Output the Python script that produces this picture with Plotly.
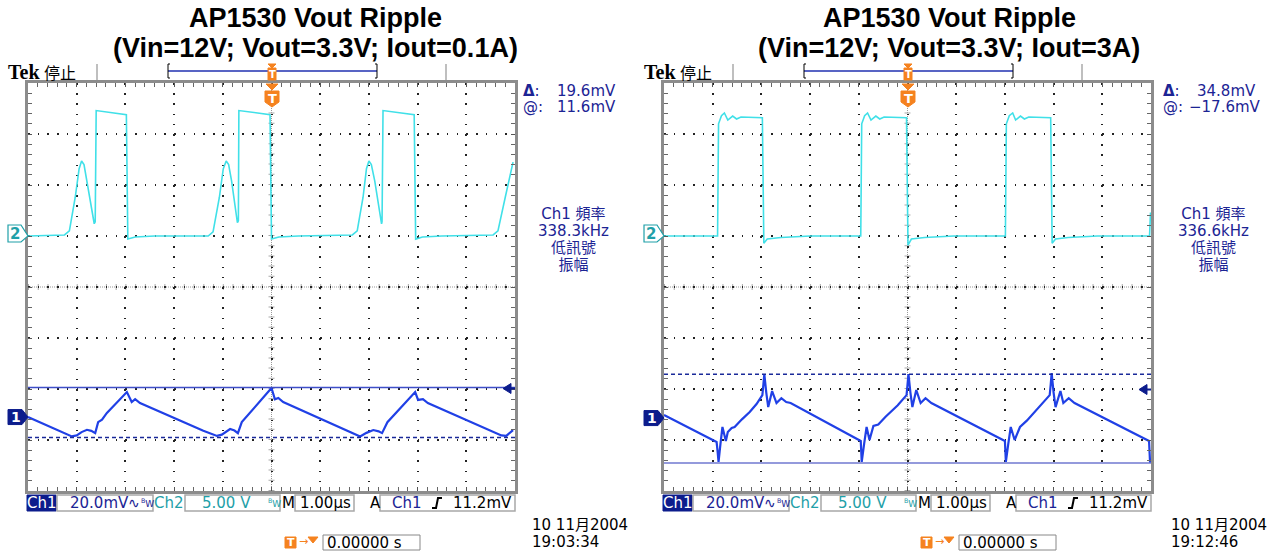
import plotly.graph_objects as go

W, H = 1280, 553

# ======================= DATA =======================
title_line1 = "AP1530 Vout Ripple"
left_title_line2 = "(Vin=12V; Vout=3.3V; Iout=0.1A)"
right_title_line2 = "(Vin=12V; Vout=3.3V; Iout=3A)"

time_range_us = [-5, 5]          # M 1.00 µs/div, 10 divisions
n_vdiv = 4                        # +-4 vertical divisions
ch1_mv_per_div = 20.0
ch2_v_per_div = 5.0
ch2_ground_div = 1.0
left_ch1_ground_div = -2.55
right_ch1_ground_div = -2.57

# ---- left capture (Iout = 0.1 A) ----
left_ch1_t = [-5.00, -4.40, -4.20, -4.10, -4.00, -3.90, -3.79, -3.70, -3.62, -3.56, -3.48, -3.38,
              -2.97, -2.87, -2.80, -2.70, -1.40, -1.22, -1.12, -1.02, -0.85, -0.76, -0.69, -0.61,
              -0.48, 0.00, 0.07, 0.14, 0.24, 1.60, 1.75, 1.82, 1.95, 2.09, 2.20, 2.27, 2.38, 2.50,
              2.95, 3.01, 3.11, 3.21, 4.55, 4.72, 4.82, 4.96]
left_ch1_mv = [0.0, -5.2, -6.7, -7.6, -7.2, -5.9, -5.0, -5.4, -6.3, -2.0, -1.0, 1.6,
               9.8, 5.9, 7.0, 5.5, -5.4, -6.8, -7.4, -6.9, -4.7, -5.3, -6.3, -2.0,
               0.8, 11.4, 7.0, 7.5, 5.9, -5.8, -7.0, -7.6, -6.2, -5.1, -5.6, -6.3, -2.0, 0.4,
               9.8, 6.7, 7.0, 5.5, -5.6, -7.2, -7.4, -5.1]
left_ch2_t = [-5.00, -4.25, -4.15, -4.03, -3.95, -3.90, -3.85, -3.79, -3.69, -3.64, -3.62, -3.60,
              -2.98, -2.95, -2.80, -2.40, -1.30, -1.20, -1.07, -0.99, -0.93, -0.88, -0.82, -0.74,
              -0.70, -0.68, -0.67, -0.03, 0.00, 0.15, 0.55, 1.66, 1.76, 1.88, 1.95, 2.00, 2.05,
              2.12, 2.21, 2.26, 2.27, 2.29, 2.93, 2.96, 3.10, 3.50, 4.55, 4.65, 4.80, 4.96]
left_ch2_v = [0.0, 0.1, 0.5, 3.8, 6.6, 7.35, 7.0, 5.4, 2.5, 1.2, 1.4, 12.3,
              11.9, -0.3, -0.1, 0.0, 0.0, 0.4, 3.8, 6.6, 7.35, 7.0, 5.4, 2.5,
              1.3, 1.5, 12.3, 11.9, -0.3, -0.1, 0.0, 0.1, 0.5, 3.8, 6.6, 7.35, 7.0,
              5.4, 2.5, 1.2, 1.4, 12.3, 11.9, -0.3, -0.1, 0.0, 0.1, 0.5, 3.8, 7.25]
left_cursor_solid_mv = 11.6
left_cursor_dashed_mv = -8.0
left_delta = "19.6mV"
left_at = "11.6mV"
left_freq = "338.3kHz"
left_date = "10 11月2004"
left_clock = "19:03:34"

# ---- right capture (Iout = 3 A) ----
right_ch1_t = [-5.00, -3.92, -3.90, -3.88, -3.84, -3.80, -3.73, -3.69, -3.61, -3.55, -3.40, -3.24,
               -3.10, -2.98, -2.96, -2.94, -2.90, -2.86, -2.78, -2.69, -2.59, -2.49, -2.40,
               -0.96, -0.95, -0.94, -0.89, -0.84, -0.78, -0.70, -0.60, -0.45, -0.20, -0.02,
               0.00, 0.02, 0.06, 0.10, 0.18, 0.27, 0.37, 0.49, 2.00, 2.01, 2.02, 2.07, 2.12,
               2.20, 2.31, 2.45, 2.61, 2.80, 2.92, 2.94, 2.96, 3.00, 3.04, 3.14, 3.20, 3.31,
               3.43, 4.96, 4.98, 5.00]
right_ch1_mv = [1.2, -9.4, -13.0, -17.2, -10.0, -3.5, -9.0, -5.5, -3.9, -3.5, -0.5, 2.4,
                5.5, 9.0, 13.0, 17.2, 10.0, 4.3, 10.6, 5.9, 7.8, 6.3, 5.9,
                -9.0, -13.0, -17.2, -10.0, -3.5, -8.6, -3.1, -2.5, 0.5, 5.0, 9.0,
                13.0, 17.2, 10.0, 4.3, 11.0, 5.9, 7.8, 5.9, -9.0, -13.0, -17.2, -10.0, -3.5,
                -8.6, -3.5, -1.0, 2.4, 6.5, 9.0, 13.0, 17.6, 10.0, 4.3, 10.6, 5.9, 7.8,
                5.9, -9.0, -17.2, -17.2]
right_ch2_t = [-5.00, -3.90, -3.88, -3.82, -3.76, -3.69, -3.59, -3.51, -3.42, -2.98, -2.95, -2.88,
               -2.60, -2.00, -0.96, -0.94, -0.88, -0.82, -0.75, -0.65, -0.57, -0.48, -0.02,
               0.01, 0.08, 0.35, 0.95, 2.01, 2.03, 2.09, 2.16, 2.22, 2.32, 2.40, 2.49, 2.94,
               2.97, 3.04, 3.30, 3.90, 4.97, 4.99]
right_ch2_v = [0.0, 0.0, 11.0, 11.8, 12.06, 11.37, 11.76, 11.47, 11.67, 11.6, -0.7, -0.3,
               -0.15, 0.0, 0.0, 11.0, 11.8, 12.06, 11.37, 11.76, 11.47, 11.67, 11.6,
               -0.9, -0.3, -0.15, 0.0, 0.0, 11.0, 11.8, 12.06, 11.37, 11.76, 11.47, 11.67, 11.6,
               -0.7, -0.3, -0.15, 0.0, 0.0, 2.3]
right_cursor_solid_mv = -17.6
right_cursor_dashed_mv = 17.2
right_delta = "34.8mV"
right_at = "\u221217.6mV"
right_freq = "336.6kHz"
right_date = "10 11月2004"
right_clock = "19:12:46"

trigger_level_mv = 11.2
ch1_scale_text = "20.0mV"
ch2_scale_text = "5.00 V"
time_scale_text = "1.00µs"
trigger_text = "11.2mV"
trigger_pos_text = "0.00000 s"

# ======================= STYLE =======================
NAVY = "#1c2494"
TEAL = "#1fa0a8"
ORANGE = "#f5821f"
CYAN = "#40e0e8"
BLUE = "#2040e6"
GRID = "#222222"
FRAME = "#8c8c8c"
TEK = "DejaVu Sans, Noto Sans CJK TC"
CJK = "Noto Sans CJK TC, DejaVu Sans"


def X(px):
    return px / W


def Y(py):
    return 1 - py / H


def ppath(pts, close=True):
    s = "M " + " L ".join(f"{X(a):.5f},{Y(b):.5f}" for a, b in pts)
    return s + (" Z" if close else "")


def mpath(pts, close=True):
    # x in pixels -> paper, y already in data units
    s = "M " + " L ".join(f"{X(a):.5f},{b:.4f}" for a, b in pts)
    return s + (" Z" if close else "")


fig = go.Figure()
annotations = []
shapes = []


def txt(x, y, text, size=14, color="black", family=TEK, xanchor="center", yanchor="middle",
        xref="paper", yref="paper"):
    annotations.append(dict(x=x, y=y, text=text, showarrow=False, xref=xref, yref=yref,
                            xanchor=xanchor, yanchor=yanchor,
                            font=dict(family=family, size=size, color=color), borderpad=0))


def rect(x0, y0, x1, y1, fill="white", line="#a8a8a8", lw=1.5):
    shapes.append(dict(type="rect", xref="paper", yref="paper", x0=X(x0), x1=X(x1),
                       y0=Y(y1), y1=Y(y0), fillcolor=fill, line=dict(color=line, width=lw),
                       layer="above"))


def vrange(ground_div, per_div):
    return [(-n_vdiv - ground_div) * per_div, (n_vdiv - ground_div) * per_div]


panels = [
    dict(ox=0, sx=0, tc=315, xa="x", ya="y", y1a="y3",
         ch1_t=left_ch1_t, ch1_v=left_ch1_mv, ch2_t=left_ch2_t, ch2_v=left_ch2_v,
         g1=left_ch1_ground_div, solid=left_cursor_solid_mv, dashed=left_cursor_dashed_mv,
         solid_col="#3e4ec8", title2=left_title_line2, delta=left_delta, at=left_at,
         freq=left_freq, date=left_date, clock=left_clock),
    dict(ox=636, sx=640, tc=949, xa="x2", ya="y2", y1a="y4",
         ch1_t=right_ch1_t, ch1_v=right_ch1_mv, ch2_t=right_ch2_t, ch2_v=right_ch2_v,
         g1=right_ch1_ground_div, solid=right_cursor_solid_mv, dashed=right_cursor_dashed_mv,
         solid_col="#7078d0", title2=right_title_line2, delta=right_delta, at=right_at,
         freq=right_freq, date=right_date, clock=right_clock),
]

ch2_range = vrange(ch2_ground_div, ch2_v_per_div)
ch2_center = (ch2_range[0] + ch2_range[1]) / 2
mv_per_px = ch1_mv_per_div / 51.0
v_per_px = ch2_v_per_div / 51.0

layout_axes = {}
for i, p in enumerate(panels):
    ox = p["ox"]
    xk = "xaxis" if i == 0 else "xaxis2"
    yk = "yaxis" if i == 0 else "yaxis2"
    y1k = "yaxis3" if i == 0 else "yaxis4"
    layout_axes[xk] = dict(
        domain=[X(28 + ox), X(515 + ox)], range=time_range_us, anchor=p["ya"],
        dtick=1, tick0=0, showgrid=True, gridcolor=GRID, gridwidth=1.5,
        griddash="1.5px,8.7px", zeroline=False, showline=True, mirror="allticks",
        linecolor=FRAME, linewidth=3, ticks="inside", ticklen=4, tickcolor="#555",
        minor=dict(ticks="inside", dtick=0.2, ticklen=4, tickcolor="#666", showgrid=False),
        showticklabels=False, fixedrange=True)
    layout_axes[yk] = dict(
        domain=[Y(491), Y(83)], range=ch2_range, anchor=p["xa"],
        dtick=ch2_v_per_div, tick0=0, showgrid=True, gridcolor=GRID, gridwidth=1.5,
        griddash="1.5px,8.24px", zeroline=False, showline=True, mirror="allticks",
        linecolor=FRAME, linewidth=3, ticks="inside", ticklen=4, tickcolor="#555",
        minor=dict(ticks="inside", dtick=ch2_v_per_div / 5, ticklen=4, tickcolor="#666",
                   showgrid=False),
        showticklabels=False, fixedrange=True)
    layout_axes[y1k] = dict(
        range=vrange(p["g1"], ch1_mv_per_div), overlaying=p["ya"], anchor=p["xa"],
        visible=False, fixedrange=True)

    # center crosshair (dense dots + ticks)
    for dash, wdt, col in (("1px,1px", 1, "#999"), ("1px,8.74px", 6, "#aaa")):
        shapes.append(dict(type="line", xref=p["xa"], yref=p["ya"], x0=time_range_us[0],
                           x1=time_range_us[1], y0=ch2_center, y1=ch2_center, layer="below",
                           line=dict(color=col, width=wdt, dash=dash)))
    for dash, wdt, col in (("1px,1px", 1, "#999"), ("1px,9.2px", 6, "#aaa")):
        shapes.append(dict(type="line", xref=p["xa"], yref=p["ya"], x0=0, x1=0,
                           y0=ch2_range[0], y1=ch2_range[1], layer="below",
                           line=dict(color=col, width=wdt, dash=dash)))

    # traces
    fig.add_trace(go.Scatter(x=p["ch2_t"], y=p["ch2_v"], xaxis=p["xa"], yaxis=p["ya"],
                             mode="lines", line=dict(color=CYAN, width=1.6), hoverinfo="skip"))
    fig.add_trace(go.Scatter(x=p["ch1_t"], y=p["ch1_v"], xaxis=p["xa"], yaxis=p["y1a"],
                             mode="lines", line=dict(color=BLUE, width=2.2), hoverinfo="skip"))

    # cursors
    dom_ref = p["xa"] + " domain"
    shapes.append(dict(type="line", xref=dom_ref, yref=p["y1a"], x0=0, x1=1,
                       y0=p["solid"], y1=p["solid"], line=dict(color=p["solid_col"], width=1.6)))
    shapes.append(dict(type="line", xref=dom_ref, yref=p["y1a"], x0=0, x1=1,
                       y0=p["dashed"], y1=p["dashed"],
                       line=dict(color="#1a2a9a", width=1.4, dash="4px,3px")))

    # trigger level arrow (right edge)
    t = trigger_level_mv
    shapes.append(dict(type="path", xref="paper", yref=p["y1a"], layer="above",
                       path=mpath([(503 + ox, t), (511 + ox, t + 5 * mv_per_px),
                                   (511 + ox, t - 5 * mv_per_px)]),
                       fillcolor="#0c1c8c", line=dict(color="#0c1c8c", width=1)))
    shapes.append(dict(type="path", xref="paper", yref=p["y1a"], layer="above",
                       path=mpath([(510 + ox, t), (515 + ox, t)], close=False),
                       line=dict(color="#0c1c8c", width=2)))

    # channel 1 ground marker
    shapes.append(dict(type="path", xref="paper", yref=p["y1a"], layer="above",
                       path=mpath([(8 + ox, 7.5 * mv_per_px), (22 + ox, 7.5 * mv_per_px),
                                   (28 + ox, 0), (22 + ox, -7.5 * mv_per_px),
                                   (8 + ox, -7.5 * mv_per_px)]),
                       fillcolor="#0c1c8c", line=dict(color="#0c1c8c", width=1)))
    txt(X(15.5 + ox), 0, "<b>1</b>", size=14, color="white", xref="paper", yref=p["y1a"])
    # channel 2 ground marker
    shapes.append(dict(type="path", xref="paper", yref=p["ya"], layer="above",
                       path=mpath([(8 + ox, 11 * v_per_px), (21 + ox, 11 * v_per_px),
                                   (28 + ox, 0), (21 + ox, -6 * v_per_px),
                                   (8 + ox, -6 * v_per_px)]),
                       fillcolor="white", line=dict(color=TEAL, width=1.2)))
    txt(X(15 + ox), 2.5 * v_per_px, "<b>2</b>", size=15, color=TEAL, xref="paper",
        yref=p["ya"])

    # titles
    txt(X(p["tc"]), Y(18), "<b>" + title_line1 + "</b>", size=27, color="black",
        family="Liberation Sans, Arial")
    txt(X(p["tc"]), Y(48), "<b>" + p["title2"] + "</b>", size=27, color="black",
        family="Liberation Sans, Arial")

    # top status line
    txt(X(7 + ox), Y(72), "<b>Tek</b>", size=20, color="black",
        family="Liberation Serif, Times New Roman", xanchor="left")
    txt(X(43 + ox), Y(72), "停止", size=16, color="black", family=CJK, xanchor="left")
    for sep in (97, 446):
        shapes.append(dict(type="line", xref="paper", yref="paper", x0=X(sep + ox),
                           x1=X(sep + ox), y0=Y(64), y1=Y(80),
                           line=dict(color="#aaaaaa", width=1.5)))
    shapes.append(dict(type="line", xref="paper", yref="paper", x0=X(168 + ox),
                       x1=X(377 + ox), y0=Y(71), y1=Y(71), line=dict(color="#2030b0", width=1.5)))
    for bx, sgn in ((168, 1), (377, -1)):
        shapes.append(dict(type="path", xref="paper", yref="paper",
                           path=ppath([(bx + ox + 2 * sgn, 64), (bx + ox, 64), (bx + ox, 78),
                                       (bx + ox + 2 * sgn, 78)], close=False),
                           line=dict(color="black", width=1)))
    cx = 272 + ox
    shapes.append(dict(type="path", xref="paper", yref="paper",
                       path=ppath([(cx - 4, 64), (cx + 4, 64), (cx, 68)]),
                       fillcolor=ORANGE, line=dict(color=ORANGE, width=1)))
    rect(cx - 4, 68, cx + 4, 80, fill=ORANGE, line=ORANGE, lw=1)
    txt(X(cx), Y(74.5), "<b>T</b>", size=10, color="white", family="DejaVu Sans")
    # trigger position marker at top of graticule
    shapes.append(dict(type="path", xref="paper", yref="paper",
                       path=ppath([(cx - 6, 84), (cx + 6, 84), (cx, 90)]),
                       fillcolor=ORANGE, line=dict(color=ORANGE, width=1)))
    shapes.append(dict(type="path", xref="paper", yref="paper",
                       path=ppath([(cx - 7, 91), (cx + 7, 91), (cx + 7, 102), (cx, 107),
                                   (cx - 7, 102)]),
                       fillcolor=ORANGE, line=dict(color=ORANGE, width=1)))
    txt(X(cx), Y(98), "<b>T</b>", size=13, color="white", family="DejaVu Sans")

    # right-hand readouts
    sx = p["sx"]
    txt(X(522 + sx), Y(91), "<b>Δ</b>:", size=15, color=NAVY, xanchor="left")
    txt(X(617 + sx), Y(91), p["delta"], size=15, color=NAVY, xanchor="right")
    txt(X(522 + sx), Y(107), "@:", size=15, color=NAVY, xanchor="left")
    txt(X(617 + sx + (5 if i == 1 else 0)), Y(107), p["at"], size=15, color=NAVY,
        xanchor="right")
    # frequency measurement block (one 4-line text, 17 px line pitch)
    big = '<span style="font-size:15px">'
    block = (big + "Ch1 頻率</span><br>" + big + p["freq"] + "</span><br>"
             + big + "低訊號</span><br>" + big + "振幅</span>")
    txt(X(573 + sx), Y(240), block, size=13.1, color=NAVY, family=TEK)

    # bottom status bar
    yb = Y(503)
    rect(27 + ox, 495, 56 + ox, 511, fill="#0c1c8c", line="#0c1c8c", lw=1)
    txt(X(41.5 + ox), yb, "Ch1", size=15, color="white")
    rect(57 + ox, 495, 153 + ox, 511)
    txt(X(99 + ox), yb, ch1_scale_text, size=15, color=NAVY)
    txt(X(134 + ox), yb, "∿", size=14, color=NAVY)
    txt(X(147 + ox), yb, "<sup>B</sup>W", size=9, color=NAVY)
    txt(X(169 + ox), yb, "Ch2", size=15, color=TEAL)
    rect(185 + ox, 495, 280 + ox, 511)
    txt(X(226 + ox), yb, ch2_scale_text, size=15, color=TEAL)
    txt(X(274 + ox), yb, "<sup>B</sup>W", size=9, color=TEAL)
    txt(X(288.5 + ox), yb, "M", size=15, color="black")
    rect(295 + ox, 495, 354 + ox, 511)
    txt(X(325 + ox), yb, time_scale_text, size=15, color="black")
    txt(X(375 + ox), yb, "A", size=15, color="black")
    rect(380 + ox, 495, 515 + ox, 511)
    txt(X(407 + ox), yb, "Ch1", size=15, color=NAVY)
    shapes.append(dict(type="path", xref="paper", yref="paper",
                       path=ppath([(432 + ox, 508), (436 + ox, 508), (438 + ox, 498),
                                   (442 + ox, 498)], close=False),
                       line=dict(color="black", width=2)))
    txt(X(513 + ox), yb, trigger_text, size=15, color="black", xanchor="right")

    # date / time
    txt(X(531 + sx - (1 if i == 1 else 0)), Y(525), p["date"], size=15, color="black",
        family="DejaVu Sans, Noto Sans CJK TC", xanchor="left")
    txt(X(531 + sx - (1 if i == 1 else 0)), Y(542), p["clock"], size=15, color="black",
        xanchor="left")

    # trigger position readout
    rect(285 + ox, 537, 296 + ox, 548, fill=ORANGE, line=ORANGE, lw=1)
    txt(X(290.5 + ox), Y(542.5), "<b>T</b>", size=11, color="white")
    txt(X(303 + ox), Y(541), "→", size=11, color=ORANGE)
    shapes.append(dict(type="path", xref="paper", yref="paper",
                       path=ppath([(308 + ox, 537), (318 + ox, 537), (313 + ox, 543)]),
                       fillcolor=ORANGE, line=dict(color=ORANGE, width=1)))
    rect(323 + ox, 535, 420 + ox, 550, line="#888888", lw=1)
    txt(X(326 + ox), Y(542.5), trigger_pos_text, size=15, color="black", xanchor="left")

fig.update_layout(
    width=W, height=H, autosize=False,
    margin=dict(l=0, r=0, t=0, b=0),
    paper_bgcolor="white", plot_bgcolor="white",
    showlegend=False,
    annotations=annotations, shapes=shapes,
    **layout_axes,
)

fig.write_html("out.html", config={"displayModeBar": False},
               post_script="document.body.style.margin='0';"
                           "document.body.style.overflow='hidden';")
